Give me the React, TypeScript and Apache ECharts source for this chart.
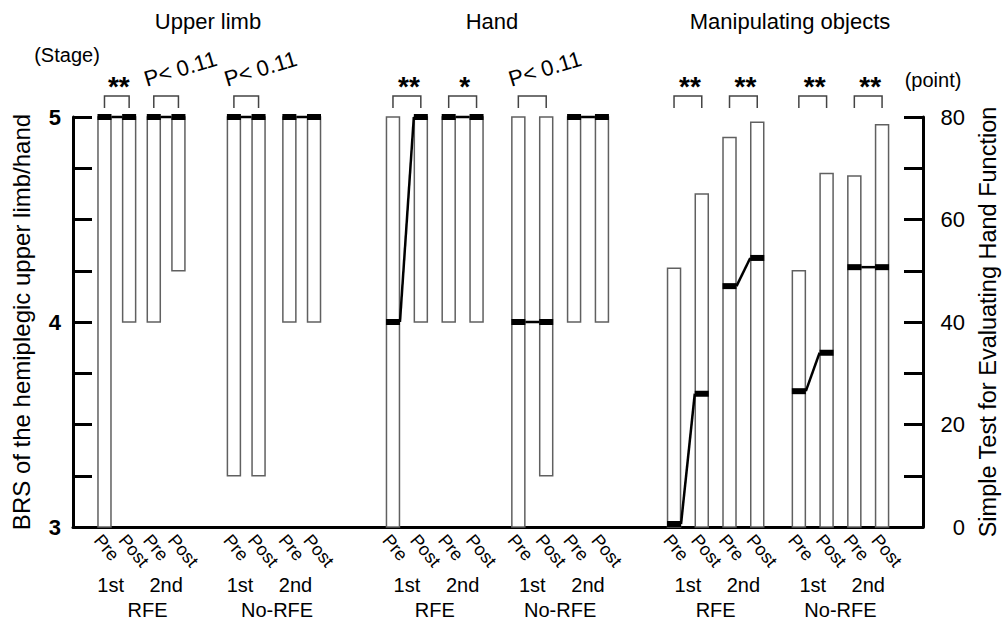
import React, { useEffect, useRef } from 'react';
import * as echarts from 'echarts';

const FONT = '"Liberation Sans", Arial, Helvetica, sans-serif';

// ---------------- data ----------------
const panelTitles = ['Upper limb', 'Hand', 'Manipulating objects'];
const barLabels = ['Pre', 'Post', 'Pre', 'Post', 'Pre', 'Post', 'Pre', 'Post'];
const sessionLabels = ['1st', '2nd', '1st', '2nd'];
const groupLabels = ['RFE', 'No-RFE'];

// BRS stage (3-5): range (min-max) and median
const upperMin = [3, 4, 4, 4.25, 3.25, 3.25, 4, 4];
const upperMax = [5, 5, 5, 5, 5, 5, 5, 5];
const upperMedian = [5, 5, 5, 5, 5, 5, 5, 5];

const handMin = [3, 4, 4, 4, 3, 3.25, 4, 4];
const handMax = [5, 5, 5, 5, 5, 5, 5, 5];
const handMedian = [4, 5, 5, 5, 4, 4, 5, 5];

// STEF points (0-80)
const manipMin = [0, 0, 0, 0, 0, 0, 0, 0];
const manipMax = [50.5, 65, 76, 79, 50, 69, 68.5, 78.5];
const manipMedian = [0, 26, 47, 52.5, 26.5, 34, 50.7, 50.7];

// significance of Pre vs Post per pair
const upperSig = ['**', 'P< 0.11', 'P< 0.11', ''];
const handSig = ['**', '*', 'P< 0.11', ''];
const manipSig = ['**', '**', '**', '**'];

const leftAxisName = 'BRS of the hemiplegic upper limb/hand';
const rightAxisName = 'Simple Test for Evaluating Hand Function';
const leftUnit = '(Stage)';
const rightUnit = '(point)';

const brsRange = [3, 5];
const brsStep = 0.25;
const stefRange = [0, 80];
const stefStep = 10;

// ---------------- layout ----------------
const PLOT_TOP = 117;
const PLOT_BOTTOM = 93;
const BAR_W = 13;
const MARK_W = 14;
const MARK_H = 6;

const panelLayout = [
  { left: 101.4, width: 215.7, slots: 35, barSlots: [0, 4, 8, 12, 21, 25, 30, 34], sessionSlots: [1, 10, 22, 31], groupSlots: [7, 28] },
  { left: 386, width: 222.9, slots: 16, barSlots: [0, 2, 4, 6, 9, 11, 13, 15], sessionSlots: [1, 5, 10, 14], groupSlots: [3, 12] },
  { left: 667.1, width: 221.9, slots: 16, barSlots: [0, 2, 4, 6, 9, 11, 13, 15], sessionSlots: [1, 5, 10, 14], groupSlots: [3, 12] },
];

const panels = [
  { min: upperMin, max: upperMax, med: upperMedian, sig: upperSig, range: brsRange },
  { min: handMin, max: handMax, med: handMedian, sig: handSig, range: brsRange },
  { min: manipMin, max: manipMax, med: manipMedian, sig: manipSig, range: stefRange },
];

const titleX = [208, 492, 790];

function cats(n: number, slots: number[], labels: string[]) {
  return Array.from({ length: n }, (_, k) => {
    const j = slots.indexOf(k);
    return j >= 0 ? labels[j] : '';
  });
}

function markerCenter(api: any, x: number, med: number, lo: number) {
  const m = api.coord([x, med]);
  const l = api.coord([x, lo]);
  const top = Math.min(m[1] - MARK_H / 2, l[1] - MARK_H);
  return [m[0], top + MARK_H / 2];
}

function buildOption() {
  const grid: any[] = [];
  const xAxis: any[] = [];
  const yAxis: any[] = [];
  const series: any[] = [];

  panels.forEach((p, i) => {
    const L = panelLayout[i];
    grid.push({ left: L.left, width: L.width, top: PLOT_TOP, bottom: PLOT_BOTTOM, containLabel: false, outerBoundsMode: 'none' });
    xAxis.push({
      type: 'category', gridIndex: i, position: 'bottom',
      data: cats(L.slots, L.barSlots, barLabels),
      axisLine: { show: false }, axisTick: { show: false }, splitLine: { show: false },
      axisLabel: { interval: 0, rotate: -50, margin: 4, align: 'left', verticalAlign: 'top', fontSize: 18, color: '#000', fontFamily: FONT },
    });
    xAxis.push({
      type: 'category', gridIndex: i, position: 'bottom',
      data: cats(L.slots, L.sessionSlots, sessionLabels),
      axisLine: { show: false }, axisTick: { show: false }, splitLine: { show: false },
      axisLabel: { interval: 0, margin: 48, fontSize: 20, color: '#000', fontFamily: FONT },
    });
    xAxis.push({
      type: 'category', gridIndex: i, position: 'bottom',
      data: cats(L.slots, L.groupSlots, groupLabels),
      axisLine: { show: false }, axisTick: { show: false }, splitLine: { show: false },
      axisLabel: { interval: 0, margin: 73, fontSize: 20, color: '#000', fontFamily: FONT },
    });
    yAxis.push({ type: 'value', gridIndex: i, min: p.range[0], max: p.range[1], show: false });

    const barData = L.barSlots.map((s, k) => [s, p.min[k], p.max[k]]);
    const medData = L.barSlots.map((s, k) => [s, p.med[k], p.min[k]]);
    const pairData: number[][] = [];
    const sigData: number[][] = [];
    const sigText: string[] = [];
    for (let q = 0; q < 4; q++) {
      const a = 2 * q, b = 2 * q + 1;
      pairData.push([L.barSlots[a], L.barSlots[b], p.med[a], p.med[b], p.min[a], p.min[b]]);
      if (p.sig[q]) {
        sigData.push([L.barSlots[a], L.barSlots[b], p.range[1]]);
        sigText.push(p.sig[q]);
      }
    }

    series.push({
      type: 'custom', xAxisIndex: 3 * i, yAxisIndex: i, clip: false,
      encode: { x: 0, y: [1, 2] },
      data: barData,
      renderItem: (_params: any, api: any) => {
        const x = api.value(0);
        const lo = api.coord([x, api.value(1)]);
        const hi = api.coord([x, api.value(2)]);
        return {
          type: 'rect',
          shape: { x: lo[0] - BAR_W / 2, y: hi[1], width: BAR_W, height: lo[1] - hi[1] },
          style: { fill: '#fff', stroke: '#606060', lineWidth: 1.5 },
        };
      },
    });
    series.push({
      type: 'custom', xAxisIndex: 3 * i, yAxisIndex: i, clip: false,
      encode: { x: [0, 1], y: [2, 3] },
      data: pairData,
      renderItem: (_params: any, api: any) => {
        const a = markerCenter(api, api.value(0), api.value(2), api.value(4));
        const b = markerCenter(api, api.value(1), api.value(3), api.value(5));
        return {
          type: 'line',
          shape: { x1: a[0] + MARK_W / 2, y1: a[1], x2: b[0] - MARK_W / 2, y2: b[1] },
          style: { stroke: '#000', lineWidth: 2.5 },
        };
      },
    });
    series.push({
      type: 'custom', xAxisIndex: 3 * i, yAxisIndex: i, clip: false,
      encode: { x: 0, y: [1, 2] },
      data: medData,
      renderItem: (_params: any, api: any) => {
        const c = markerCenter(api, api.value(0), api.value(1), api.value(2));
        return {
          type: 'rect',
          shape: { x: c[0] - MARK_W / 2, y: c[1] - MARK_H / 2, width: MARK_W, height: MARK_H },
          style: { fill: '#000' },
        };
      },
    });
    series.push({
      type: 'custom', xAxisIndex: 3 * i, yAxisIndex: i, clip: false,
      encode: { x: [0, 1], y: 2 },
      data: sigData,
      renderItem: (params: any, api: any) => {
        const text = sigText[params.dataIndex];
        const a = api.coord([api.value(0), api.value(2)]);
        const b = api.coord([api.value(1), api.value(2)]);
        const top = a[1];
        const children: any[] = [
          {
            type: 'polyline',
            shape: { points: [[a[0], top - 9], [a[0], top - 21], [b[0], top - 21], [b[0], top - 9]] },
            style: { stroke: '#444', lineWidth: 1.5, fill: null },
          },
        ];
        if (text.charAt(0) === 'P') {
          children.push({
            type: 'text', x: a[0] - 6, y: top - 27, rotation: 0.29,
            style: { text, x: 0, y: 0, fill: '#000', fontSize: 22, fontFamily: FONT, align: 'left', verticalAlign: 'bottom' },
          });
        } else {
          children.push({
            type: 'text', x: (a[0] + b[0]) / 2 + 2, y: top - 31,
            style: { text, fill: '#000', fontSize: 28, fontWeight: 'bold', fontFamily: FONT, align: 'center', verticalAlign: 'middle' },
          });
        }
        return { type: 'group', children };
      },
    });
  });

  // full-width frame grid with the visible axes
  grid.push({ left: 73, right: 79, top: PLOT_TOP, bottom: PLOT_BOTTOM, containLabel: false, outerBoundsMode: 'none' });
  xAxis.push({
    type: 'value', gridIndex: 3, min: 0, max: 1, position: 'bottom',
    axisLine: { show: true, lineStyle: { color: '#000', width: 3 } },
    axisTick: { show: false }, axisLabel: { show: false }, splitLine: { show: false },
  });
  yAxis.push({
    type: 'value', gridIndex: 3, position: 'left', min: brsRange[0], max: brsRange[1], interval: brsStep,
    axisLine: { show: true, lineStyle: { color: '#000', width: 3 } },
    axisTick: { show: true, inside: true, length: 19, lineStyle: { color: '#000', width: 3 } },
    axisLabel: {
      margin: 12, fontSize: 22, fontWeight: 'bold', color: '#000', fontFamily: FONT,
      formatter: (v: number) => (Number.isInteger(v) ? String(v) : ''),
    },
    splitLine: { show: false },
    name: leftAxisName, nameLocation: 'middle', nameGap: 40, nameRotate: 90,
    nameTextStyle: { fontSize: 24, color: '#000', fontFamily: FONT },
  });
  yAxis.push({
    type: 'value', gridIndex: 3, position: 'right', min: stefRange[0], max: stefRange[1], interval: stefStep,
    axisLine: { show: true, lineStyle: { color: '#000', width: 3 } },
    axisTick: { show: true, inside: true, length: 19, lineStyle: { color: '#000', width: 3 } },
    axisLabel: {
      margin: 42, align: 'right', fontSize: 22, color: '#000', fontFamily: FONT,
      formatter: (v: number) => (v % 20 === 0 ? String(v) : ''),
    },
    splitLine: { show: false },
    name: rightAxisName, nameLocation: 'middle', nameGap: 47, nameRotate: 90,
    nameTextStyle: { fontSize: 23.5, color: '#000', fontFamily: FONT },
  });

  const graphic: any[] = panelTitles.map((t, i) => ({
    type: 'text', x: titleX[i], y: 21,
    style: { text: t, align: 'center', verticalAlign: 'middle', fontSize: 22, fontFamily: FONT, fill: '#000' },
  }));
  graphic.push({
    type: 'text', x: 67, y: 55,
    style: { text: leftUnit, align: 'center', verticalAlign: 'middle', fontSize: 20, fontFamily: FONT, fill: '#000' },
  });
  graphic.push({
    type: 'text', x: 933, y: 80,
    style: { text: rightUnit, align: 'center', verticalAlign: 'middle', fontSize: 20, fontFamily: FONT, fill: '#000' },
  });

  return {
    animation: false,
    backgroundColor: '#fff',
    textStyle: { fontFamily: FONT },
    grid, xAxis, yAxis, series, graphic,
  };
}

export default function App() {
  const ref = useRef<HTMLDivElement>(null);
  useEffect(() => {
    if (!ref.current) return;
    const chart = echarts.init(ref.current, undefined, { renderer: 'svg' });
    chart.setOption(buildOption() as any);
    return () => chart.dispose();
  }, []);
  return <div ref={ref} style={{ position: 'fixed', left: 0, top: 0, width: 1002, height: 620 }} />;
}
